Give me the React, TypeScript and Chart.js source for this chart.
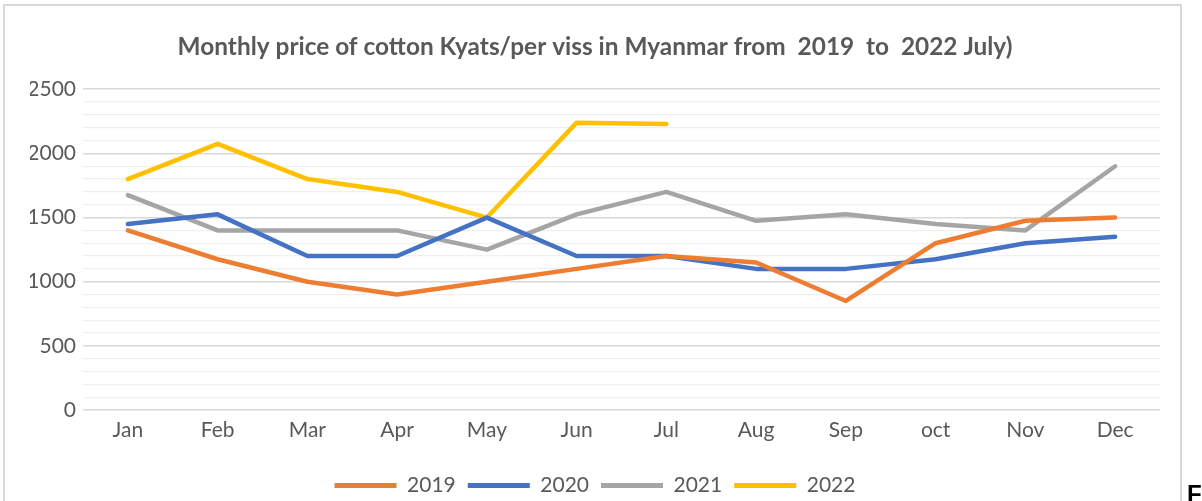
import React, { useEffect, useRef } from "react";
import { Chart, registerables } from "chart.js";

Chart.register(...registerables);

const months = ["Jan", "Feb", "Mar", "Apr", "May", "Jun", "Jul", "Aug", "Sep", "oct", "Nov", "Dec"];
const s2019 = [1400, 1175, 1000, 900, 1000, 1100, 1200, 1150, 850, 1300, 1475, 1500];
const s2020 = [1450, 1525, 1200, 1200, 1500, 1200, 1200, 1100, 1100, 1175, 1300, 1350];
const s2021 = [1675, 1400, 1400, 1400, 1250, 1525, 1700, 1475, 1525, 1450, 1400, 1900];
const s2022 = [1800, 2075, 1800, 1700, 1500, 2240, 2230];
const seriesNames = ["2019", "2020", "2021", "2022"];
const seriesColors = ["#ED7D31", "#4472C4", "#A5A5A5", "#FFC000"];
const titleText = "Monthly price of cotton Kyats/per viss in Myanmar from  2019  to  2022 July)";

export default function App() {
  const ref = useRef<HTMLCanvasElement | null>(null);

  useEffect(() => {
    if (!ref.current) return;
    const values = [s2019, s2020, s2021, s2022];
    const chart = new Chart(ref.current, {
      type: "line",
      data: {
        labels: months,
        datasets: values.map((v, i) => ({
          label: seriesNames[i],
          data: v,
          borderColor: seriesColors[i],
          backgroundColor: seriesColors[i],
          borderWidth: 4.5,
          pointRadius: 0,
          tension: 0,
          borderCapStyle: "round" as const,
          borderJoinStyle: "round" as const,
          fill: false,
        })),
      },
      options: {
        animation: false,
        responsive: false,
        maintainAspectRatio: false,
        layout: { padding: { left: 30, right: 42, top: 0, bottom: 14 } },
        plugins: {
          tooltip: { enabled: false },
          title: {
            display: true,
            text: titleText,
            color: "#595959",
            font: { family: "Lato", size: 24.4, weight: "bold" },
            padding: { top: 33, bottom: 27 },
          },
          legend: {
            position: "bottom",
            labels: {
              color: "#595959",
              font: { family: "Lato", size: 21 },
              boxWidth: 62,
              boxHeight: 5,
              padding: 12,
              useBorderRadius: true,
              borderRadius: 2.5,
              generateLabels: (c: any) =>
                c.data.datasets.map((d: any, i: number) => ({
                  text: d.label,
                  fillStyle: d.borderColor,
                  strokeStyle: d.borderColor,
                  lineWidth: 0,
                  hidden: false,
                  datasetIndex: i,
                  fontColor: "#595959",
                })),
            },
          },
        },
        scales: {
          x: {
            offset: true,
            grid: { display: false },
            border: { display: false },
            afterFit: (s: any) => {
              s.height = 53;
            },
            ticks: {
              color: "#595959",
              font: { family: "Lato", size: 21 },
              padding: 0,
              maxRotation: 0,
              autoSkip: false,
            },
          },
          y: {
            min: 0,
            max: 2500,
            afterFit: (s: any) => {
              s.width = 53;
            },
            border: { display: false },
            grid: {
              drawTicks: false,
              color: (ctx: any) => (ctx.tick && ctx.tick.value % 500 === 0 ? "#D9D9D9" : "#F0F0F0"),
              lineWidth: (ctx: any) => (ctx.tick && ctx.tick.value % 500 === 0 ? 1.6 : 1.3),
            },
            ticks: {
              stepSize: 100,
              autoSkip: false,
              padding: 7,
              color: "#595959",
              font: { family: "Lato", size: 21 },
              callback: (v: any) => (Number(v) % 500 === 0 ? String(v) : ""),
            },
          },
        },
      },
    });
    return () => chart.destroy();
  }, []);

  return (
    <div style={{ position: "fixed", left: 0, top: 0, width: 1202, height: 501, overflow: "hidden", background: "#fff" }}>
      <div
        style={{
          position: "absolute",
          left: 3,
          top: 4,
          width: 1179,
          height: 600,
          border: "2px solid #D9D9D9",
          boxSizing: "border-box",
        }}
      />
      <canvas ref={ref} width={1202} height={520} style={{ position: "absolute", left: 0, top: 0, width: 1202, height: 520 }} />
      <div
        style={{
          position: "absolute",
          left: 1187,
          top: 482,
          fontFamily: "'Liberation Sans', Arial, sans-serif",
          fontWeight: "bold",
          fontSize: 24,
          lineHeight: "24px",
          color: "#000",
        }}
      >
        F
      </div>
    </div>
  );
}
